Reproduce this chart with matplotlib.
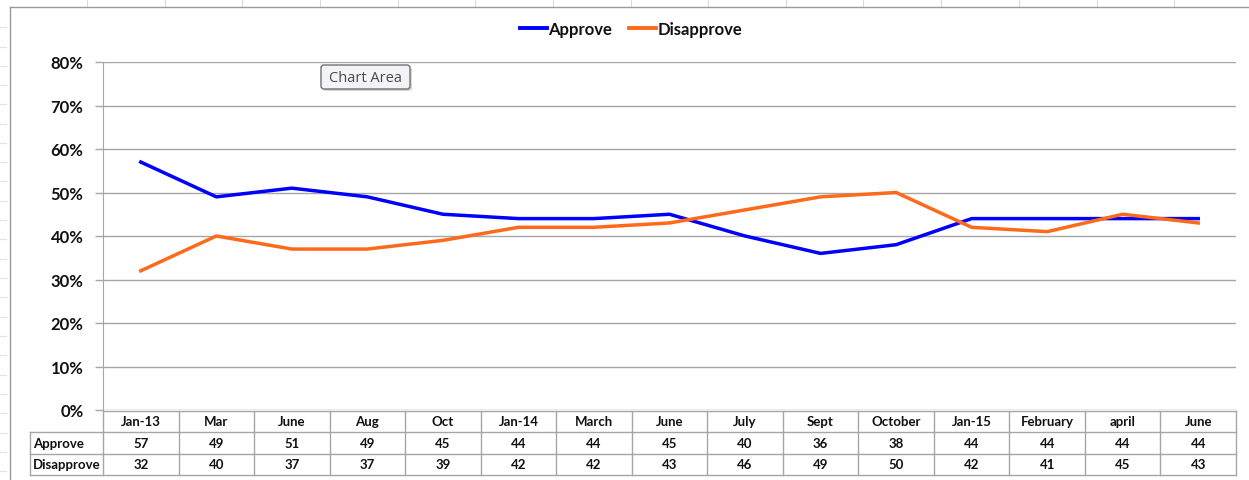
import matplotlib
matplotlib.use("Agg")
import matplotlib.pyplot as plt
from matplotlib.lines import Line2D
from matplotlib.patches import FancyBboxPatch
from matplotlib.transforms import blended_transform_factory, IdentityTransform
from matplotlib.ticker import FuncFormatter

categories = ["Jan-13", "Mar", "June", "Aug", "Oct", "Jan-14", "March", "June",
              "July", "Sept", "October", "Jan-15", "February", "april", "June"]
approve = [57, 49, 51, 49, 45, 44, 44, 45, 40, 36, 38, 44, 44, 44, 44]
disapprove = [32, 40, 37, 37, 39, 42, 42, 43, 46, 49, 50, 42, 41, 45, 43]
series_names = ["Approve", "Disapprove"]
y_ticks = [0, 10, 20, 30, 40, 50, 60, 70, 80]

W, H = 1249, 481
plt.rcParams['font.family'] = ['Lato', 'DejaVu Sans']
fig = plt.figure(figsize=(W / 100, H / 100), dpi=100)
fig.patch.set_facecolor("white")

def fx(px):
    return px / W

def fy(py):
    return 1 - py / H

GRID = "#A6A6A6"
TXT = "#111111"
BLUE = "#0000FF"
ORANGE = "#FF6A1A"

# spreadsheet decoration
for x in [87, 164.5, 242, 320, 397.5, 475, 553, 630.5, 708, 786, 863, 941, 1019, 1097, 1174]:
    fig.add_artist(Line2D([fx(x), fx(x)], [fy(0), fy(7)], color="#DADADA", lw=0.8))
for y in [28, 48, 67, 86, 105, 125, 144, 163, 182, 202, 221, 240, 260, 279, 298, 318, 337, 356, 376, 395, 414, 434, 453, 472]:
    fig.add_artist(Line2D([fx(0), fx(6)], [fy(y), fy(y)], color="#E2E2E2", lw=0.8))
# chart area border
fig.add_artist(Line2D([fx(10), fx(10)], [fy(8), fy(481)], color="#9A9A9A", lw=1))
fig.add_artist(Line2D([fx(10), fx(1249)], [fy(8), fy(8)], color="#9A9A9A", lw=1))

L, R, T, B = 103, 1236, 63, 411
ax = fig.add_axes([fx(L), fy(B), fx(R) - fx(L), fy(T) - fy(B)])
x = list(range(len(categories)))
ax.plot(x, [v / 100 for v in approve], color=BLUE, lw=2.5, solid_joinstyle="round", zorder=3)
ax.plot(x, [v / 100 for v in disapprove], color=ORANGE, lw=2.5, solid_joinstyle="round", zorder=3)
ax.set_xlim(-0.5, len(categories) - 0.5)
ax.set_ylim(0, 0.8)
ax.set_yticks([t / 100 for t in y_ticks])
ax.yaxis.set_major_formatter(FuncFormatter(lambda v, p: f"{v*100:.0f}%"))
ax.grid(axis="y", color=GRID, lw=1)
ax.set_axisbelow(True)
for s in ["top", "right", "bottom"]:
    ax.spines[s].set_visible(False)
ax.spines["left"].set_color(GRID)
ax.tick_params(axis="y", length=6, color=GRID, width=1, pad=8,
               labelsize=12, labelcolor=TXT)
for lbl in ax.get_yticklabels():
    lbl.set_fontweight("bold")
ax.set_xticks([])

# data table
tr = blended_transform_factory(ax.transData, fig.transFigure)
rows_y = [412, 433, 455, 476]
n = len(categories)
lo, hi = -0.5, n - 0.5
xl = (30 - L) / ((R - L) / n) - 0.5
lk = dict(color=GRID, lw=1, transform=tr, clip_on=False)
fig.add_artist(Line2D([lo, hi], [fy(rows_y[0])] * 2, **lk))
for yy in rows_y[1:]:
    fig.add_artist(Line2D([xl, hi], [fy(yy)] * 2, **lk))
for i in range(n + 1):
    fig.add_artist(Line2D([i - 0.5, i - 0.5], [fy(rows_y[0]), fy(rows_y[-1])], **lk))
fig.add_artist(Line2D([xl, xl], [fy(rows_y[1]), fy(rows_y[-1])], **lk))

def mid(a, b):
    return fy((a + b) / 2)

FS = 9.5
tk = dict(transform=tr, fontsize=FS, fontweight="bold", color=TXT, va="center", ha="center")
for i, c in enumerate(categories):
    fig.text(i, mid(rows_y[0], rows_y[1]), c, **tk)
    fig.text(i, mid(rows_y[1], rows_y[2]), str(approve[i]), **tk)
    fig.text(i, mid(rows_y[2], rows_y[3]), str(disapprove[i]), **tk)
fig.text(fx(33), mid(rows_y[1], rows_y[2]), series_names[0], fontsize=FS, fontweight="bold",
         color=TXT, va="center", ha="left")
fig.text(fx(33), mid(rows_y[2], rows_y[3]), series_names[1], fontsize=FS, fontweight="bold",
         color=TXT, va="center", ha="left")

# legend
handles = [Line2D([], [], color=BLUE, lw=2.8), Line2D([], [], color=ORANGE, lw=2.8)]
leg = fig.legend(handles, series_names, loc="center", bbox_to_anchor=(fx(631), fy(30)),
                 ncol=2, frameon=False, handlelength=1.6, handletextpad=0.1,
                 columnspacing=1.0, prop=dict(size=12, weight="bold"))
for t in leg.get_texts():
    t.set_color(TXT)

# "Chart Area" tooltip
it = IdentityTransform()
fig.add_artist(FancyBboxPatch((323, H - 92), 89, 24, boxstyle="round,pad=0,rounding_size=3",
                              fc="#BBBBBB", ec="none", alpha=0.6, transform=it))
fig.add_artist(FancyBboxPatch((321, H - 90), 89, 24, boxstyle="round,pad=0,rounding_size=3",
                              fc="#F3F3F8", ec="#707070", lw=1, transform=it))
fig.text(fx(365.5), fy(78), "Chart Area", fontsize=10.5, color="#4a4a4a",
         ha="center", va="center", family=["Open Sans", "DejaVu Sans"])

fig.savefig("out.png", dpi=100)
